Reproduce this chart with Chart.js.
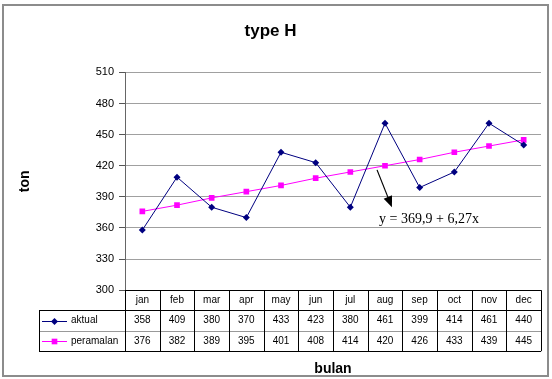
<!DOCTYPE html>
<html>
<head>
<meta charset="utf-8">
<script src="https://cdn.jsdelivr.net/npm/chart.js@4.4.0/dist/chart.umd.min.js"></script>
<style>
  body { margin: 0; background: #fff; }
  canvas { display: block; }
</style>
</head>
<body>
<canvas id="myChart" width="552" height="379"></canvas>
<script>
var months = ['jan', 'feb', 'mar', 'apr', 'may', 'jun', 'jul', 'aug', 'sep', 'oct', 'nov', 'dec'];
var aktual = [358, 409, 380, 370, 433, 423, 380, 461, 399, 414, 461, 440];
var peramalan = [376, 382, 389, 395, 401, 408, 414, 420, 426, 433, 439, 445];
var yTicks = [300, 330, 360, 390, 420, 450, 480, 510];
var trendText = 'y = 369,9 + 6,27x';

Chart.defaults.font.family = '"Liberation Sans", Arial, sans-serif';
Chart.defaults.color = '#000';

function drawMarker(ctx, style, cx, cy, r, color) {
    ctx.fillStyle = color;
    ctx.beginPath();
    if (style === 'rectRot') {
        ctx.moveTo(cx, cy - r);
        ctx.lineTo(cx + r, cy);
        ctx.lineTo(cx, cy + r);
        ctx.lineTo(cx - r, cy);
    } else {
        var s = r * Math.SQRT1_2;
        ctx.rect(cx - s, cy - s, 2 * s, 2 * s);
    }
    ctx.closePath();
    ctx.fill();
}

function hline(ctx, x1, x2, y, color) {
    ctx.strokeStyle = color;
    ctx.beginPath();
    ctx.moveTo(x1, Math.round(y) + 0.5);
    ctx.lineTo(x2, Math.round(y) + 0.5);
    ctx.stroke();
}

function vline(ctx, x, y1, y2, color) {
    ctx.strokeStyle = color;
    ctx.beginPath();
    ctx.moveTo(Math.round(x) + 0.5, y1);
    ctx.lineTo(Math.round(x) + 0.5, y2);
    ctx.stroke();
}

// white background, frame, trend note and the data table under the plot
var extras = {
    id: 'extras',
    beforeDraw: function(chart) {
        var ctx = chart.ctx;
        ctx.save();
        ctx.fillStyle = '#fff';
        ctx.fillRect(0, 0, chart.width, chart.height);
        ctx.restore();
    },
    afterDatasetsDraw: function(chart) {
        var ctx = chart.ctx, x = chart.scales.x, y = chart.scales.y;
        // arrow pointing from the trend line to the equation
        var x1 = x.getPixelForValue(6.77), y1 = y.getPixelForValue(416);
        var x2 = x.getPixelForValue(7.2), y2 = y.getPixelForValue(380);
        var a = Math.atan2(y2 - y1, x2 - x1);
        ctx.save();
        ctx.strokeStyle = '#000';
        ctx.fillStyle = '#000';
        ctx.lineWidth = 1.2;
        ctx.beginPath();
        ctx.moveTo(x1, y1);
        ctx.lineTo(x2 - 9 * Math.cos(a), y2 - 9 * Math.sin(a));
        ctx.stroke();
        ctx.beginPath();
        ctx.moveTo(x2, y2);
        ctx.lineTo(x2 - 11 * Math.cos(a) + 4.5 * Math.sin(a), y2 - 11 * Math.sin(a) - 4.5 * Math.cos(a));
        ctx.lineTo(x2 - 11 * Math.cos(a) - 4.5 * Math.sin(a), y2 - 11 * Math.sin(a) + 4.5 * Math.cos(a));
        ctx.closePath();
        ctx.fill();
        ctx.font = '14px "Liberation Serif", "Times New Roman", serif';
        ctx.textAlign = 'left';
        ctx.textBaseline = 'alphabetic';
        ctx.fillText(trendText, x.getPixelForValue(6.83), y.getPixelForValue(365));
        ctx.restore();
    },
    afterDraw: function(chart) {
        var ctx = chart.ctx, x = chart.scales.x, area = chart.chartArea;
        var half = (x.getPixelForValue(1) - x.getPixelForValue(0)) / 2;
        var tableLeft = 39;
        var r0 = area.bottom, r1 = r0 + 20, r2 = r1 + 21, r3 = r2 + 20;
        ctx.save();

        // frame around the whole chart
        ctx.strokeStyle = '#8c8c8c';
        ctx.lineWidth = 2;
        ctx.strokeRect(3, 5, 545, 371);
        ctx.lineWidth = 1;

        hline(ctx, area.left, area.right, r0, '#000');
        hline(ctx, tableLeft, area.right, r1, '#000');
        hline(ctx, tableLeft, area.right, r2, '#999');
        hline(ctx, tableLeft, area.right, r3, '#000');
        vline(ctx, tableLeft, r1, r3, '#000');
        vline(ctx, area.left, r0, r3, '#000');
        for (var i = 0; i < months.length; i++) {
            vline(ctx, x.getPixelForValue(i) + half, r0, r3, '#000');
        }

        ctx.font = '10px "Liberation Sans", Arial, sans-serif';
        ctx.fillStyle = '#000';
        ctx.textAlign = 'center';
        ctx.textBaseline = 'middle';
        var rowMid = [(r1 + r2) / 2, (r2 + r3) / 2];
        for (var j = 0; j < months.length; j++) {
            var cx = x.getPixelForValue(j);
            ctx.fillText(months[j], cx, (r0 + r1) / 2);
            chart.data.datasets.forEach(function(ds, k) {
                ctx.fillText(ds.data[j], cx, rowMid[k]);
            });
        }

        // legend keys inside the table
        chart.data.datasets.forEach(function(ds, k) {
            var cy = rowMid[k];
            ctx.strokeStyle = ds.borderColor;
            ctx.beginPath();
            ctx.moveTo(42, Math.round(cy) + 0.5);
            ctx.lineTo(67, Math.round(cy) + 0.5);
            ctx.stroke();
            drawMarker(ctx, ds.pointStyle, 54.5, Math.round(cy) + 0.5, ds.pointRadius, ds.backgroundColor);
            ctx.fillStyle = '#000';
            ctx.textAlign = 'left';
            ctx.fillText(ds.label, 71, cy);
        });
        ctx.restore();
    }
};

var ctx = document.getElementById('myChart').getContext('2d');
var myChart = new Chart(ctx, {
    type: 'line',
    data: {
        labels: months,
        datasets: [{
            label: 'aktual',
            data: aktual,
            borderColor: '#000080',
            backgroundColor: '#000080',
            borderWidth: 1,
            pointStyle: 'rectRot',
            pointRadius: 3.5,
            pointBorderWidth: 0
        },
        {
            label: 'peramalan',
            data: peramalan,
            borderColor: '#ff00ff',
            backgroundColor: '#ff00ff',
            borderWidth: 1,
            pointStyle: 'rect',
            pointRadius: 4,
            pointBorderWidth: 0
        }]
    },
    options: {
        responsive: false,
        animation: false,
        layout: {
            padding: { left: 0, right: 11, top: 0, bottom: 0 }
        },
        plugins: {
            legend: { display: false },
            tooltip: { enabled: false },
            title: {
                display: true,
                text: 'type H',
                color: '#000',
                font: { size: 17, weight: 'bold' },
                padding: { top: 21, bottom: 31 }
            }
        },
        scales: {
            x: {
                offset: true,
                ticks: { display: false },
                grid: { display: false, drawTicks: false },
                border: { display: false },
                title: {
                    display: true,
                    text: 'bulan',
                    color: '#000',
                    font: { size: 14, weight: 'bold' },
                    padding: { top: 71, bottom: 1 }
                }
            },
            y: {
                min: yTicks[0],
                max: yTicks[yTicks.length - 1],
                ticks: {
                    stepSize: yTicks[1] - yTicks[0],
                    color: '#000',
                    padding: 5,
                    font: { size: 11 }
                },
                grid: {
                    color: '#a0a0a0',
                    tickColor: '#555',
                    tickLength: 6
                },
                border: { color: '#666' },
                title: {
                    display: true,
                    text: 'ton',
                    color: '#000',
                    font: { size: 14, weight: 'bold' },
                    padding: { top: 17, bottom: 0 }
                },
                afterFit: function(scale) {
                    scale.width = 125;
                }
            }
        }
    },
    plugins: [extras]
});
</script>
</body>
</html>
